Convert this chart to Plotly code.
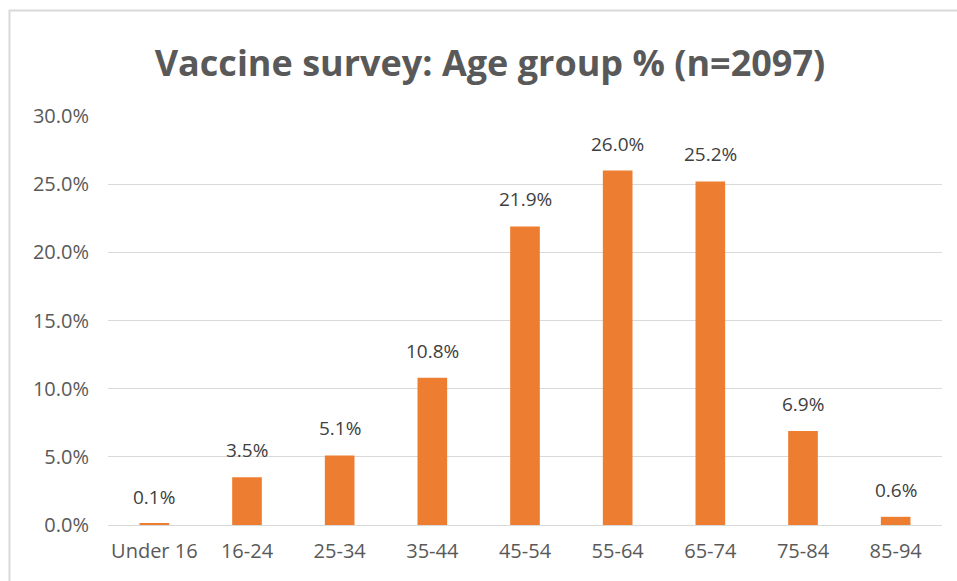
import plotly.graph_objects as go

categories = ["Under 16", "16-24", "25-34", "35-44", "45-54", "55-64", "65-74", "75-84", "85-94"]
values = [0.1, 3.5, 5.1, 10.8, 21.9, 26.0, 25.2, 6.9, 0.6]
labels = [f"{v:.1f}%" for v in values]
tick_vals = [0, 5, 10, 15, 20, 25, 30]
tick_text = [f"{t:.1f}%" for t in tick_vals]

W, H = 957, 581
L, R, T, B = 108, 15, 116, 56
pw, ph = W - L - R, H - T - B

fig = go.Figure(go.Bar(
    x=categories, y=values,
    marker=dict(color="#ED7D31", line=dict(width=0)),
    cliponaxis=False,
))

for c, v, t in zip(categories, values, labels):
    fig.add_annotation(x=c, y=v, text=t, showarrow=False, yanchor="bottom",
                       yshift=12, font=dict(color="#404040", size=19, family="Open Sans"))

def px_x(p):
    return (p - L) / pw

def px_y(p):
    return (H - B - p) / ph

fig.add_shape(type="rect", xref="paper", yref="paper",
              x0=px_x(9.5), x1=px_x(1000), y0=px_y(10.5), y1=px_y(640),
              line=dict(color="#d9d9d9", width=2), fillcolor="rgba(0,0,0,0)", layer="below")

fig.update_layout(
    width=W, height=H,
    margin=dict(l=L, r=R, t=T, b=B),
    paper_bgcolor="white", plot_bgcolor="white",
    bargap=0.68,
    showlegend=False,
    title=dict(text="<b>Vaccine survey: Age group % (n=2097)</b>", x=0.512, xanchor="center",
               y=1 - 63 / H, yanchor="middle", yref="container",
               font=dict(family="Open Sans", size=36, color="#595959")),
    font=dict(family="Open Sans", color="#595959", size=20),
    xaxis=dict(showgrid=False, showline=True, linecolor="#d9d9d9", linewidth=1,
               ticks="", ticklabelstandoff=8, tickfont=dict(size=20, color="#595959")),
    yaxis=dict(range=[0, 30], tickvals=tick_vals, ticktext=tick_text,
               showgrid=True, gridcolor="#d9d9d9", gridwidth=1, zeroline=False,
               showline=False, ticks="", ticklabelstandoff=18,
               tickfont=dict(size=20, color="#595959")),
)

fig.write_html("out.html")
